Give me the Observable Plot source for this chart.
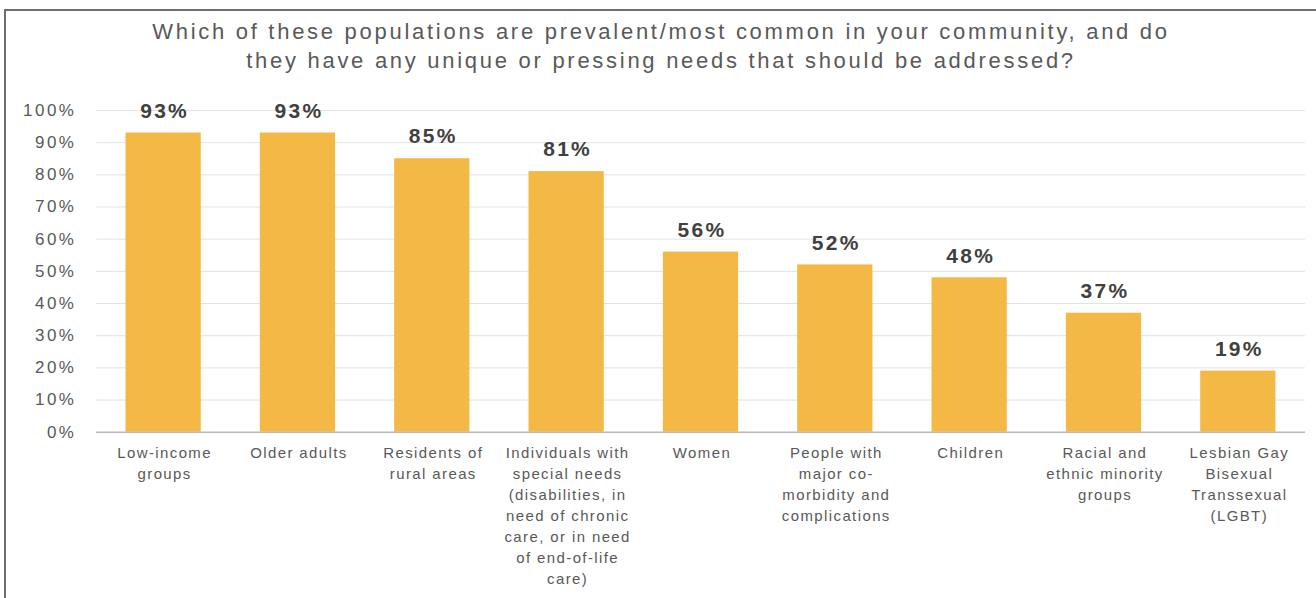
<!DOCTYPE html>
<html>
<head>
<meta charset="utf-8">
<script src="https://cdn.jsdelivr.net/npm/d3@7"></script>
<script src="https://cdn.jsdelivr.net/npm/@observablehq/plot@0.6"></script>
<style>
  html, body { margin: 0; padding: 0; background: #fff; }
  body { width: 1316px; height: 598px; overflow: hidden; position: relative; font-family: "Liberation Sans", Arial, sans-serif; }
  #frame { position: absolute; left: 4px; top: 9px; width: 1312px; height: 589px; border-left: 2px solid #6e6e6e; border-top: 2px solid #6e6e6e; box-sizing: border-box; }
  #title { position: absolute; left: 0; top: 6px; width: 1310px; text-align: center; font-size: 22px; letter-spacing: 2.72px; line-height: 29px; color: #595959; }
  #chart { position: absolute; left: -1px; top: 74px; }
</style>
</head>
<body>
<div id="frame">
  <div id="title">Which of these populations are prevalent/most common in your community, and do<br>they have any unique or pressing needs that should be addressed?</div>
  <div id="chart"></div>
</div>
<script>
const categories = ["Low-income groups", "Older adults", "Residents of rural areas", "Individuals with special needs", "Women", "People with major co-morbidity", "Children", "Racial and ethnic minority groups", "LGBT"];
const values = [93, 93, 85, 81, 56, 52, 48, 37, 19];
const tickLabels = [
  "Low-income\ngroups",
  "Older adults",
  "Residents of\nrural areas",
  "Individuals with\nspecial needs\n(disabilities, in\nneed of chronic\ncare, or in need\nof end-of-life\ncare)",
  "Women",
  "People with\nmajor co-\nmorbidity and\ncomplications",
  "Children",
  "Racial and\nethnic minority\ngroups",
  "Lesbian Gay\nBisexual\nTranssexual\n(LGBT)"
];
const yTicks = [0, 10, 20, 30, 40, 50, 60, 70, 80, 90, 100];

const data = categories.map((c, i) => ({category: c, value: values[i]}));
const labelOf = new Map(categories.map((c, i) => [c, tickLabels[i]]));

const chart = Plot.plot({
  width: 1312, height: 514,
  marginLeft: 91, marginRight: 11, marginTop: 25, marginBottom: 167,
  style: {fontFamily: "'Liberation Sans', Arial, sans-serif", background: "transparent"},
  x: {domain: categories, paddingInner: 0.44, paddingOuter: 0.22, round: false, axis: null},
  y: {domain: [0, 100], axis: null},
  marks: [
    Plot.gridY(yTicks.slice(1), {stroke: "#e2e2e2", strokeOpacity: 1}),
    Plot.axisY(yTicks, {tickSize: 0, tickPadding: 20, tickFormat: d => d + "%", fontSize: 17, color: "#595959", label: null}),
    Plot.barY(data, {x: "category", y: "value", fill: "#F4B944"}),
    Plot.ruleY([0], {stroke: "#b8b8b8", strokeWidth: 1.5}),
    Plot.text(data, {x: "category", y: "value", text: d => d.value + "%", dy: -22, dx: 1, fontSize: 21, fontWeight: "bold", fill: "#404040"}),
    Plot.axisX({tickSize: 0, tickPadding: 11, dx: 1, tickFormat: d => labelOf.get(d), fontSize: 15, lineHeight: 1.4, color: "#595959", label: null})
  ]
});
const svg = d3.select(chart);
svg.selectAll("g[aria-label='y-axis tick label']").style("letter-spacing", "2.5px");
svg.selectAll("g[aria-label='x-axis tick label']").style("letter-spacing", "1.4px");
svg.selectAll("g[aria-label='text']").style("letter-spacing", "2.3px");
document.getElementById("chart").appendChild(chart);
</script>
</body>
</html>
